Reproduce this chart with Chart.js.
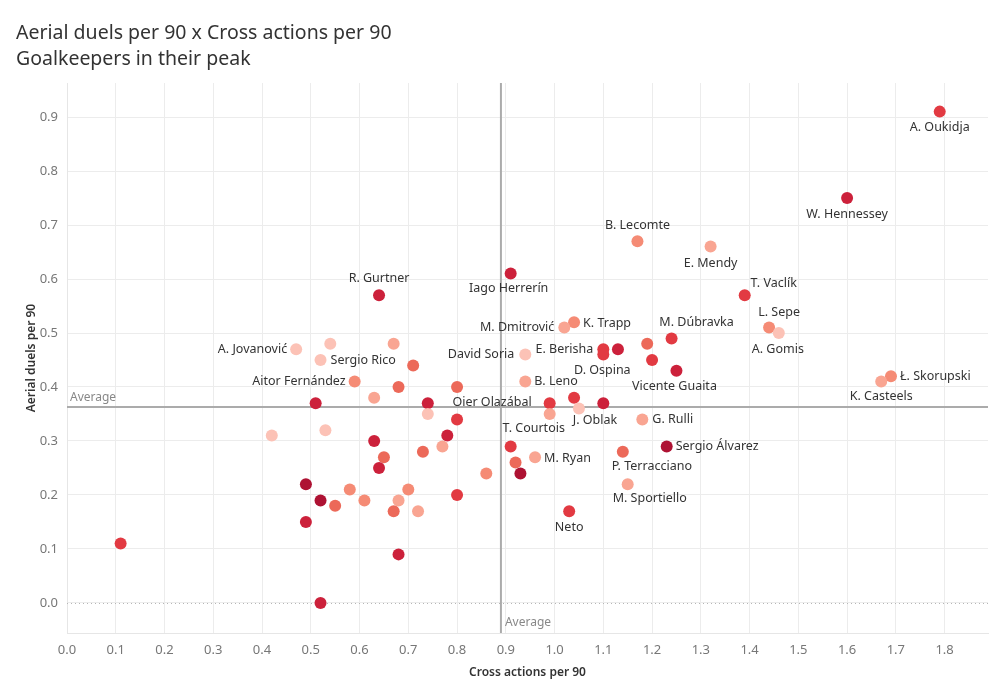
<!DOCTYPE html>
<html><head><meta charset="utf-8">
<script src="https://cdn.jsdelivr.net/npm/chart.js@4"></script>
<style>
html,body{margin:0;padding:0;background:#fff;}
#wrap{position:relative;width:1000px;height:700px;overflow:hidden;}
.ttl{position:absolute;left:16px;font-family:'Noto Sans',sans-serif;color:#333;font-size:19.5px;white-space:nowrap;line-height:24px;}
#t1{top:20px}
#t2{top:46px}
canvas{position:absolute;left:0;top:0}
</style></head><body>
<div id="wrap"><canvas id="c" width="1000" height="700"></canvas>
<div class="ttl" id="t1">Aerial duels per 90 x Cross actions per 90</div>
<div class="ttl" id="t2">Goalkeepers in their peak</div></div>
<script>
const players = ["A. Oukidja","W. Hennessey","B. Lecomte","E. Mendy","T. Vaclík","L. Sepe","A. Gomis","Ł. Skorupski","K. Casteels","R. Gurtner",
"Iago Herrerín","K. Trapp","M. Dmitrović","M. Dúbravka","E. Berisha","","D. Ospina","","","Vicente Guaita",
"David Soria","B. Leno","Oier Olazábal","","","T. Courtois","J. Oblak","G. Rulli","Sergio Álvarez","P. Terracciano",
"M. Sportiello","M. Ryan","","","","Neto","A. Jovanović","","Sergio Rico","",
"","Aitor Fernández","","","","","","","","",
"","","","","","","","","","",
"","","","","","","","","","",
"",""];
const crossActions = [1.79,1.60,1.17,1.32,1.39,1.44,1.46,1.69,1.67,0.64,
0.91,1.04,1.02,1.24,1.10,1.13,1.10,1.19,1.20,1.25,
0.94,0.94,0.99,1.04,1.10,0.99,1.05,1.18,1.23,1.14,
1.15,0.96,0.91,0.92,0.93,1.03,0.47,0.54,0.52,0.67,
0.71,0.59,0.68,0.80,0.63,0.51,0.74,0.74,0.80,0.78,
0.42,0.53,0.63,0.65,0.64,0.73,0.77,0.86,0.49,0.52,
0.58,0.55,0.61,0.70,0.68,0.67,0.72,0.80,0.49,0.68,
0.11,0.52];
const aerialDuels = [0.91,0.75,0.67,0.66,0.57,0.51,0.50,0.42,0.41,0.57,
0.61,0.52,0.51,0.49,0.47,0.47,0.46,0.48,0.45,0.43,
0.46,0.41,0.37,0.38,0.37,0.35,0.36,0.34,0.29,0.28,
0.22,0.27,0.29,0.26,0.24,0.17,0.47,0.48,0.45,0.48,
0.44,0.41,0.40,0.40,0.38,0.37,0.37,0.35,0.34,0.31,
0.31,0.32,0.30,0.27,0.25,0.28,0.29,0.24,0.22,0.19,
0.21,0.18,0.19,0.21,0.19,0.17,0.17,0.20,0.15,0.09,
0.11,0.00];
const shadeGroup = [4,5,2,1,4,2,0,2,1,5,
5,2,1,4,4,5,4,3,4,5,
0,1,4,4,5,1,0,1,6,3,
1,1,4,3,6,4,0,0,0,1,
3,2,3,3,1,5,5,0,4,5,
0,0,5,3,5,3,1,2,6,6,
2,3,2,2,1,3,1,4,5,5,
4,5];
const xTickValues = [0.0,0.1,0.2,0.3,0.4,0.5,0.6,0.7,0.8,0.9,1.0,1.1,1.2,1.3,1.4,1.5,1.6,1.7,1.8];
const yTickValues = [0.0,0.1,0.2,0.3,0.4,0.5,0.6,0.7,0.8,0.9];
const avgCross = 0.89;
const avgAerial = 0.363;

const shadePalette = ['#fcc2b6','#f9a592','#f58b75','#ec6959','#e23a42','#cc213b','#ae1233'];
const FONT = "'Noto Sans', sans-serif";

// label placement: [dx, dy, align]
const labelPlacement = {
"A. Oukidja":[0,16,'center'],"W. Hennessey":[0,16,'center'],"B. Lecomte":[0,-16,'center'],
"E. Mendy":[0,17,'center'],"T. Vaclík":[29,-12,'center'],"L. Sepe":[10,-15,'center'],
"A. Gomis":[-1,16,'center'],"Ł. Skorupski":[9,0,'left'],"K. Casteels":[0,15,'center'],
"R. Gurtner":[0,-17,'center'],"Iago Herrerín":[-2,15,'center'],"K. Trapp":[9,1,'left'],
"M. Dmitrović":[-10,0,'right'],"M. Dúbravka":[25,-16,'center'],"E. Berisha":[-10,0,'right'],
"D. Ospina":[-1,16,'center'],"Vicente Guaita":[-2,16,'center'],"David Soria":[-11,0,'right'],
"B. Leno":[9,0,'left'],"Oier Olazábal":[-18,-1,'right'],"T. Courtois":[-16,14,'center'],
"J. Oblak":[16,12,'center'],"G. Rulli":[10,0,'left'],"Sergio Álvarez":[9,0,'left'],
"P. Terracciano":[29,15,'center'],"M. Sportiello":[22,14,'center'],"M. Ryan":[9,1,'left'],
"Neto":[0,16,'center'],"A. Jovanović":[-9,0,'right'],"Sergio Rico":[10,0,'left'],
"Aitor Fernández":[-9,0,'right']
};

const points = crossActions.map((x,i)=>({x:x,y:aerialDuels[i]}));

const overlay = {
  id:'overlay',
  beforeDatasetsDraw(chart){
    const {ctx, chartArea:a, scales:{x,y}} = chart;
    ctx.save();
    ctx.strokeStyle='#b5b5b5'; ctx.lineWidth=1; ctx.setLineDash([1,3]);
    const y0=Math.round(y.getPixelForValue(0))+0.5;
    ctx.beginPath(); ctx.moveTo(a.left,y0); ctx.lineTo(a.right,y0); ctx.stroke();
    ctx.setLineDash([]);
    ctx.strokeStyle='#ababab'; ctx.lineWidth=2;
    const ax=x.getPixelForValue(avgCross), ay=y.getPixelForValue(avgAerial);
    ctx.beginPath(); ctx.moveTo(ax,a.top); ctx.lineTo(ax,a.bottom); ctx.stroke();
    ctx.beginPath(); ctx.moveTo(a.left,ay); ctx.lineTo(a.right,ay); ctx.stroke();
    ctx.fillStyle='#888'; ctx.font='12px '+FONT; ctx.textBaseline='middle'; ctx.textAlign='left';
    ctx.fillText('Average', a.left+3, ay-9);
    ctx.fillText('Average', ax+4, a.bottom-10);
    ctx.restore();
  },
  afterDatasetsDraw(chart){
    const {ctx} = chart;
    const meta = chart.getDatasetMeta(0);
    ctx.save();
    ctx.fillStyle='#333'; ctx.font='12.5px '+FONT; ctx.textBaseline='middle';
    players.forEach((n,i)=>{
      if(!n) return;
      const p = meta.data[i];
      const pl = labelPlacement[n] || [0,16,'center'];
      ctx.textAlign = pl[2];
      ctx.fillText(n, p.x+pl[0], p.y+pl[1]);
    });
    ctx.restore();
  }
};

new Chart(document.getElementById('c'), {
  type:'scatter',
  data:{datasets:[{
    data:points,
    pointBackgroundColor:shadeGroup.map(g=>shadePalette[g]),
    pointBorderWidth:0,
    pointRadius:6,
    pointHoverRadius:6
  }]},
  options:{
    responsive:false,
    devicePixelRatio:1,
    animation:false,
    layout:{padding:{top:83,right:12,left:0,bottom:0}},
    plugins:{legend:{display:false},tooltip:{enabled:false}},
    scales:{
      x:{
        type:'linear', min:0, max:1.889,
        afterBuildTicks(s){ s.ticks = xTickValues.map(v=>({value:v})); },
        afterFit(s){ s.height = 67; },
        ticks:{callback:v=>Number(v).toFixed(1), color:'#777', font:{family:FONT,size:13}, padding:9, maxRotation:0, autoSkip:false},
        grid:{color:'#ececec', drawTicks:false},
        border:{color:'#e6e6e6'},
        title:{display:true, text:'Cross actions per 90', color:'#333', font:{family:FONT,size:12,weight:'600'}, padding:{bottom:20}}
      },
      y:{
        type:'linear', min:-0.0556, max:0.963,
        afterBuildTicks(s){ s.ticks = yTickValues.map(v=>({value:v})); },
        afterFit(s){ s.width = 67; },
        ticks:{callback:v=>Number(v).toFixed(1), color:'#777', font:{family:FONT,size:13}, padding:9, autoSkip:false},
        grid:{color:'#ececec', drawTicks:false},
        border:{color:'#e6e6e6'},
        title:{display:true, text:'Aerial duels per 90', color:'#333', font:{family:FONT,size:12,weight:'600'}, padding:{top:24}}
      }
    }
  },
  plugins:[overlay]
});
</script>
</body></html>
